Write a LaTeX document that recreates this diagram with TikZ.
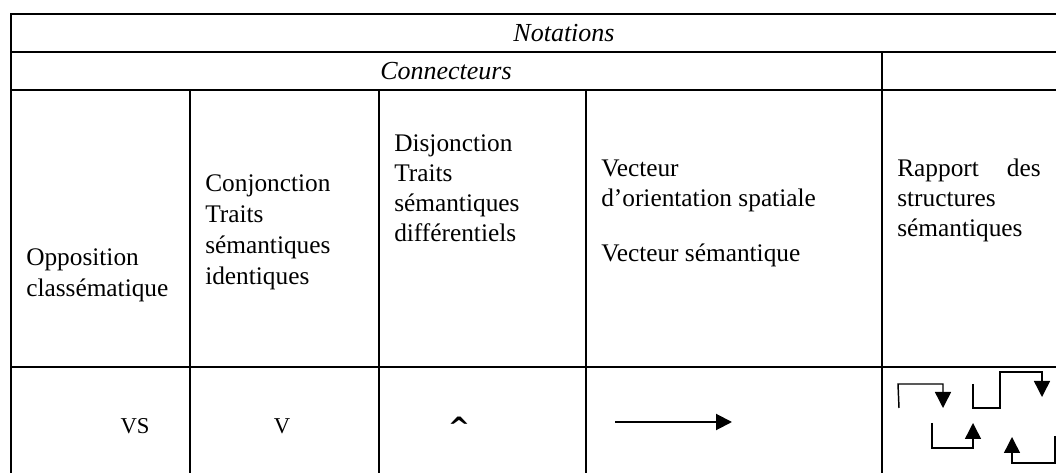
\documentclass[tikz,border=0pt]{standalone}
\usepackage{fontspec}
\setmainfont{Liberation Serif}
\newfontfamily\symfont{DejaVu Sans}
\usetikzlibrary{arrows.meta}

\begin{document}
\begin{tikzpicture}[x=0.75pt,y=-0.75pt,
  rule/.style={line width=1.3pt},
  cell/.style={anchor=base west,inner sep=0pt,font=\fontsize{19}{23}\selectfont},
  head/.style={inner sep=0pt,font=\fontsize{19.5}{23}\selectfont\itshape},
  sign/.style={anchor=base,inner sep=0pt,font=\fontsize{17}{19}\selectfont},
  bent/.style={line width=1.1pt,-{Triangle[length=12pt,width=12pt]}}]
\useasboundingbox (0,0) rectangle (1056,473);
\draw[rule] (11,473)--(11,14)--(1056,14);
\draw[rule] (11,52)--(1056,52);
\draw[rule] (11,90)--(1056,90);
\draw[rule] (11,367)--(1056,367);
\draw[rule] (882,52)--(882,473);
\draw[rule] (190,90)--(190,473);
\draw[rule] (379,90)--(379,473);
\draw[rule] (586,90)--(586,473);
\node[head] (notations) at (564,33) {Notations};
\node[head] (connecteurs) at (446,71) {Connecteurs};
\node[cell] (opp1) at (26,266) {Opposition};
\node[cell] (opp2) at (26,297) {classématique};
\node[cell] (conj1) at (205,192) {Conjonction};
\node[cell] (conj2) at (205,223) {Traits};
\node[cell] (conj3) at (205,254) {sémantiques};
\node[cell] (conj4) at (205,285) {identiques};
\node[cell] (disj1) at (394,152) {Disjonction};
\node[cell] (disj2) at (394,182) {Traits};
\node[cell] (disj3) at (394,212) {sémantiques};
\node[cell] (disj4) at (394,242) {différentiels};
\node[cell] (vect1) at (601,177) {Vecteur};
\node[cell] (vect2) at (601,207) {d’orientation spatiale};
\node[cell] (vect3) at (601,262) {Vecteur sémantique};
\node[cell] (rapp1) at (897,177) {Rapport};
\node[cell,anchor=base east] (rapp2) at (1041,177) {des};
\node[cell] (rapp3) at (897,207) {structures};
\node[cell] (rapp4) at (897,237) {sémantiques};
\node[sign] (vs) at (135,434) {VS};
\node[sign] (v) at (282,434) {V};
\node[anchor=base,inner sep=0pt,font=\symfont\bfseries\fontsize{20}{22}\selectfont] (wedge) at (459,436) {\char"5E};
\coordinate (vstart) at (615,422);
\coordinate (vend) at (732,422);
\draw[line width=1.5pt,-{Triangle[length=12pt,width=12pt]}] (vstart)--(vend);
\coordinate (a0) at (899,408);
\coordinate (a1) at (943,408);
\draw[bent] (a0)--(898,384)--(943,384)--(a1);
\coordinate (b0) at (973,384);
\coordinate (b1) at (1042,397);
\draw[bent] (b0)--(973,408)--(1000,408)--(1000,372)--(1042,372)--(b1);
\coordinate (c0) at (932,423);
\coordinate (c1) at (973,423);
\draw[bent] (c0)--(932,448)--(973,448)--(c1);
\coordinate (d0) at (1055,436);
\coordinate (d1) at (1012,437);
\draw[bent] (d0)--(1055,463)--(1012,463)--(d1);
\end{tikzpicture}
\end{document}
